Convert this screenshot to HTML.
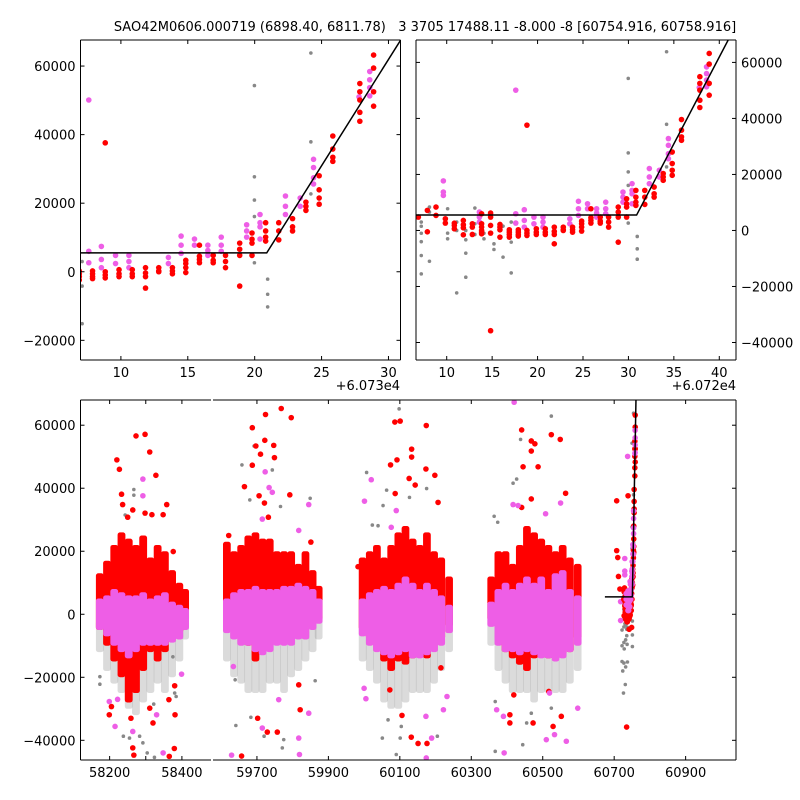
<!DOCTYPE html>
<html><head><meta charset="utf-8"><style>
html,body{margin:0;padding:0;background:#fff;}
svg{display:block;font-family:"DejaVu Sans","Liberation Sans",sans-serif;}
</style></head><body>
<svg id="chart" width="800" height="800" viewBox="0 0 800 800" xmlns="http://www.w3.org/2000/svg">
<rect x="0" y="0" width="800" height="800" fill="#ffffff"/>
<text x="425" y="31" font-size="13" text-anchor="middle" style="white-space:pre" xml:space="preserve">SAO42M0606.000719 (6898.40, 6811.78)   3 3705 17488.11 -8.000 -8 [60754.916, 60758.916]</text>
</svg>
<script>
// ---- zoomed data (last season), times relative to T0 ----
const T0 = 60720;
const topRedNights = [6.88,7.87,8.82,9.85,10.84,11.83,12.82,13.84,14.83,15.86,16.89,17.88,18.83,19.86,20.85,21.84,22.83,23.85,24.85,25.87,26.9,27.82,28.88,29.8,30.82,31.8,32.83,33.83,34.82,35.84,37.86,38.89];
const topRedValues = [[4770],[7160,-480],[8350,5370],[4180,2620],[2600,1800,600],[3580,2030,950,-1550],[2390,1190,-1430],[5970,2390,1190,0,-600,-1190],[6200,4770,1790,-950,-35800],[2150,1190,240,-2390],[240,-600,-1430,-2390],[240,-600,-1430,-2000],[37600,0,-950,-1790],[600,-600,-1430],[600,-600,-1430],[1190,-360,-1430,-4770],[1190,240,0],[1190,240,-600],[3340,2390,1190,-240],[7750,4530,3580,2630],[4770,3340,2630],[4770,2980,1190],[8350,6560,4770,-4180],[11300,9500,8350,4770],[14300,11900,10100,8950],[14300,11900,9300],[15500,13100,11900],[20300,19100,17900],[28000,23900,21500,19700],[39600,35800,33400,32200],[54900,52500,50100,46500,43900],[63200,59400,52500,48300]];
const topPinkNights = [9.63,13.6,17.6,18.54,19.6,20.6,23.55,24.5,25.5,26.5,27.5,29.4,30.4,32.3,33.4,34.4,37.8,38.6];
const topPinkValues = [[17700,13700,12500],[6560,4770,2980],[50100,5970,2630],[7400,3580,1190],[4770,2390],[4770,2980,1190],[4180,2390],[10400,7750,5370],[9540,7750],[7750,6200,4770],[10100,7750,5970],[13700,11900,10100],[16700,14300,13100,9540],[22100,19100,16700],[21500,19100],[32800,30400,27400,25600],[51000],[58400,56000,53700,51300]];
const topGrayNights = [7.2,8.1,10.1,11.1,12.1,13.1,14.1,15.2,16.2,17.1,29.98,30.97,34.2];
const topGrayValues = [[3000,1500,-1000,-4000,-8950,-15500],[8350,6560,-11000],[7750,-950,-2980],[2980,0,-22300],[0,-3340,-8110,-16700],[8000,2390,-1430],[-1000,-3000],[-4770,-6800],[1550,-9540],[2980,-4180,-15150],[54300,27700,20900,16100,2630],[-2150,-6560,-10260],[63800,37900,22700]];
// broken-power-law fit: break time, base level, slope (per day), start of drawn line in full panel
const fitBreak = [60750.9];
const fitBase = [5500];
const fitSlope = [6200];
const fitStart = [60674];

// ---- full light curve: nightly-binned envelopes ----
const binT = [58172,58192,58212,58232,58252,58272,58292,58312,58332,58352,58372,58392,58408,
  59615,59635,59655,59675,59695,59715,59735,59755,59775,59795,59815,59835,59855,59872,
  59995,60015,60035,60055,60075,60095,60115,60135,60155,60175,60195,60215,60237,
  60355,60375,60395,60415,60435,60455,60475,60495,60515,60535,60555,60575,60597];
const redHi = [13000,17000,22000,26000,24000,22000,25000,18000,22000,20000,14000,10000,8000,
  23000,20000,22000,25000,26000,24000,24000,20000,20000,20000,16000,20000,14000,9000,
  18000,20000,22000,18000,22000,26000,28000,24000,22000,26000,20000,18000,12000,
  12000,20000,20000,16000,22000,28000,26000,24000,22000,20000,22000,18000,16000];
const redLo = [-5000,-10000,-15000,-20000,-28000,-25000,-18000,-12000,-15000,-12000,-8000,-6000,-2000,
  -2000,-5000,-8000,-10000,-15000,-12000,-10000,-8000,-8000,-8000,-6000,-5000,-3000,-2000,
  -5000,-8000,-10000,-15000,-18000,-15000,-16000,-14000,-12000,-14000,-10000,-8000,-4000,
  -2000,-8000,-12000,-14000,-16000,-18000,-14000,-12000,-14000,-12000,-13000,-12000,-8000];
const pinkHi = [5000,6000,8000,7000,6000,6000,7000,5000,6000,7000,4000,3000,2000,
  5000,7000,8000,8000,9000,8000,8000,8000,9000,9000,10000,9000,8000,5000,
  5000,7000,8000,9000,8000,10000,12000,10000,8000,10000,8000,6000,3000,
  4000,8000,10000,8000,10000,12000,10000,12000,8000,13000,14000,8000,6000];
const pinkLo = [-5000,-7000,-10000,-12000,-14000,-12000,-10000,-10000,-10000,-10000,-9000,-8000,-5000,
  -6000,-8000,-10000,-10000,-12000,-13000,-12000,-10000,-10000,-10000,-8000,-8000,-5000,-3000,
  -7000,-10000,-12000,-13000,-14000,-13000,-12000,-14000,-14000,-13000,-12000,-10000,-6000,
  -4000,-10000,-12000,-12000,-13000,-12000,-13000,-14000,-14000,-15000,-14000,-12000,-10000];
const grayLo = [-12000,-18000,-22000,-25000,-30000,-32000,-28000,-25000,-22000,-25000,-20000,-15000,-8000,
  -15000,-20000,-22000,-25000,-25000,-25000,-22000,-22000,-25000,-20000,-18000,-15000,-12000,-8000,
  -15000,-18000,-22000,-28000,-30000,-30000,-28000,-25000,-25000,-25000,-22000,-18000,-12000,
  -10000,-18000,-22000,-25000,-25000,-25000,-28000,-25000,-25000,-25000,-25000,-22000,-18000];
// individual outliers in full light curve
const outRedT = [58220,58227,58233,58236,58250,58264,58273,58298,58311,58328,58298,58317,58348,58358,58376,58199,58205,58259,58264,58267,58311,58320,58365,58379,58381,58380,58364,
  59687,59697,59724,59768,59796,59722,59747,59710,59749,59687,59665,59706,59721,59792,59732,59621,59615,59702,59729,59757,59657,59821,59851,59817,
  60086,60101,60174,60133,60133,60074,60092,60173,60198,60126,60143,60087,60207,59983,60106,60151,60176,60132,60072,60215,
  60441,60468,60468,60445,60487,60524,60549,60564,60478,60468,60441,60408,60408,60473,60529,60552,60517,60419,
  60707,60707,60710,60712,60716];
const outRedV = [49000,46000,38100,34800,30800,33100,56600,57100,51500,44100,32100,31600,31600,34800,19900,-31900,-29300,-33000,-42400,-44700,-29800,-34500,-45100,-42600,-31900,-22700,-27100,
  59200,53400,63400,65300,62400,55200,53600,50800,49700,47300,40500,37600,35300,37900,30800,25000,14400,-33000,-37400,-37400,-45000,-30300,22900,-22400,
  61000,61300,59900,52400,49900,47400,49000,46100,44100,43100,41000,38300,35500,15100,-32100,-41000,-41000,-39000,-24000,-17000,
  58500,55000,51800,46800,46800,57000,55500,38400,54100,36600,33900,-34500,-31900,-34500,-35600,-32400,-24500,-25600,
  36000,20200,18000,12000,8000];
const outPinkT = [58292,58292,58199,58215,58264,58330,58348,58399,58222,
  59723,59734,59743,59715,59845,59817,59634,59629,59715,59819,59845,59761,59817,
  60020,60001,60090,60076,60000,60005,60173,60189,60222,60232,60174,
  60420,60417,60550,60508,60431,60371,60390,60392,60533,60566,60510,60598,60519,
  60718,60718];
const outPinkV = [42900,37600,-27700,-35600,-37200,-31900,-44000,-19000,-27000,
  45200,40200,38700,30200,34800,26600,-16600,-44700,-36100,-44500,-31400,-27100,-39300,
  42700,35900,32900,27600,-23500,-26800,-32400,-39300,-30300,-26100,-45600,
  67300,34800,35300,31900,34500,-30300,-32400,-44000,-38200,-40300,-39800,-29800,-25000,
  4000,-2000];
const outGrayT = [58267,58267,58243,58238,58255,58283,58292,58304,58324,58384,58173,58173,58322,58375,58380,
  59658,59680,59692,59743,59766,59849,59639,59641,59683,59771,59720,59863,59775,
  60098,60007,60063,60053,60023,60039,60127,60175,60051,60101,60205,60067,60104,60090,
  60524,60438,60417,60427,60364,60374,60367,60367,60444,60468,60524,60455,
  60722,60722,60722,60724,60726];
const outGrayV = [39600,37800,31500,-38700,-39300,-38700,-40800,-44000,-45400,-26100,-22200,-19800,-28500,-13500,-25000,
  47400,36300,53400,45800,34200,36800,-20800,-35300,-32700,-42400,-38700,-21100,-39800,
  65200,45000,39400,34500,28300,28100,37100,39900,-39300,-39300,-38700,-33500,-35600,-44500,
  62900,55500,41600,42900,31100,29200,-27700,-43500,-41400,-31400,-29800,-34500,
  -5000,-10000,-15000,-18000,-25000];

const SVGNS = "http://www.w3.org/2000/svg";
const svg = document.getElementById('chart');
function mk(tag, attrs, parent){ const e=document.createElementNS(SVGNS,tag); for(const k in attrs) e.setAttribute(k,attrs[k]); (parent||svg).appendChild(e); return e; }

const AX = {
  tl:{px0:80.5,px1:400.5,py0:40,py1:360,xmin:60736.98,xmax:60760.9,ymin:-25740,ymax:67600},
  tr:{px0:416,px1:736,py0:40,py1:360,xmin:60726.62,xmax:60761.84,ymin:-46250,ymax:68000},
  bl:{px0:80.5,px1:211,py0:400,py1:760,xmin:58119.4,xmax:58480.5,ymin:-46250,ymax:68000},
  br:{px0:213,px1:736,py0:400,py1:760,xmin:59577,xmax:61041,ymin:-46250,ymax:68000}
};
function sx(a,v){ return a.px0+(v-a.xmin)/(a.xmax-a.xmin)*(a.px1-a.px0); }
function sy(a,v){ return a.py1-(v-a.ymin)/(a.ymax-a.ymin)*(a.py1-a.py0); }

const defs = mk('defs',{});
function axesGroup(key,name){
  const a=AX[key];
  const cp=mk('clipPath',{id:'clip-'+key},defs);
  mk('rect',{x:a.px0,y:a.py0,width:a.px1-a.px0,height:a.py1-a.py0},cp);
  const g=mk('g',{'clip-path':'url(#clip-'+key+')'});
  
  
  return g;
}
function dot(g,a,t,v,r,color,name){
  const c=mk('circle',{cx:sx(a,t).toFixed(2),cy:sy(a,v).toFixed(2),r:r,fill:color},g);
  
  
}
const RED='#ff0000', PINK='#ee5ee6', GRAY='#888888';
const RR=2.8, RP=2.8, RG=1.8;

function drawTop(key,name){
  const a=AX[key]; const g=axesGroup(key,name);
  topGrayNights.forEach((t,i)=>topGrayValues[i].forEach(v=>dot(g,a,T0+t,v,RG,GRAY,'gray-point')));
  topPinkNights.forEach((t,i)=>topPinkValues[i].forEach(v=>dot(g,a,T0+t,v,RP,PINK,'pink-point')));
  topRedNights.forEach((t,i)=>topRedValues[i].forEach(v=>dot(g,a,T0+t,v,RR,RED,'red-point')));
  const x0=a.xmin, x2=a.xmax+5;
  const yend=fitBase[0]+fitSlope[0]*(x2-fitBreak[0]);
  const pl=mk('polyline',{points:`${sx(a,x0)},${sy(a,fitBase[0])} ${sx(a,fitBreak[0])},${sy(a,fitBase[0])} ${sx(a,x2)},${sy(a,yend)}`,fill:'none',stroke:'#000','stroke-width':1.5},g);
  
  
}
function drawBottom(key,name){
  const a=AX[key]; const g=axesGroup(key,name);
  const hw=10;
  function band(t,lo,hi,color,nm,op){
    const x1=sx(a,t-hw), x2=sx(a,t+hw);
    const r=mk('rect',{x:x1.toFixed(2),y:sy(a,hi).toFixed(2),width:(x2-x1+0.6).toFixed(2),height:Math.max(0,sy(a,lo)-sy(a,hi)).toFixed(2),rx:2.5,fill:color,'fill-opacity':op},g);
    
    
  }
  binT.forEach((t,i)=>band(t,grayLo[i],pinkLo[i]+3000,GRAY,'gray-band',0.3));
  outGrayT.forEach((t,i)=>dot(g,a,t,outGrayV[i],RG,GRAY,'gray-outlier'));
  binT.forEach((t,i)=>band(t,redLo[i],redHi[i],RED,'red-band',1));
  outRedT.forEach((t,i)=>dot(g,a,t,outRedV[i],RR,RED,'red-outlier'));
  binT.forEach((t,i)=>band(t,pinkLo[i],pinkHi[i],PINK,'pink-band',1));
  outPinkT.forEach((t,i)=>dot(g,a,t,outPinkV[i],RP,PINK,'pink-outlier'));
  topGrayNights.forEach((t,i)=>topGrayValues[i].forEach(v=>dot(g,a,T0+t,v,RG,GRAY,'gray-point')));
  topRedNights.forEach((t,i)=>topRedValues[i].forEach(v=>dot(g,a,T0+t,v,RR,RED,'red-point')));
  topPinkNights.forEach((t,i)=>topPinkValues[i].forEach(v=>dot(g,a,T0+t,v,RP,PINK,'pink-point')));
  const x2=fitBreak[0]+20, yend=fitBase[0]+fitSlope[0]*(x2-fitBreak[0]);
  const pl=mk('polyline',{points:`${sx(a,fitStart[0])},${sy(a,fitBase[0])} ${sx(a,fitBreak[0])},${sy(a,fitBase[0])} ${sx(a,x2)},${sy(a,yend)}`,fill:'none',stroke:'#000','stroke-width':1.5},g);
  
  
}
drawTop('tl','zoom-plot-left');
drawTop('tr','zoom-plot-right');
drawBottom('bl','full-plot-left');
drawBottom('br','full-plot-right');

function line(x1,y1,x2,y2,name){ const l=mk('line',{x1,y1,x2,y2,stroke:'#000','stroke-width':1});   }
function txt(x,y,s,anchor,name){ const t=mk('text',{x,y,'font-size':13,'text-anchor':anchor}); t.textContent=s;   }
function fmtY(v){ return v<0 ? '\u2212'+Math.abs(v) : String(v); }

const tlXTicks=[10,15,20,25,30], trXTicks=[10,15,20,25,30,35,40];
const tlYTicks=[-20000,0,20000,40000,60000], fullYTicks=[-40000,-20000,0,20000,40000,60000];
const blXTicks=[58200,58300,58400], blXLabels=[58200,58400];
const brXTicks=[59700,59900,60100,60300,60500,60700,60900];

function frame(a,sides,name){
  if(sides.includes('t')) line(a.px0,a.py0,a.px1,a.py0,name+'-top-spine');
  if(sides.includes('b')) line(a.px0,a.py1,a.px1,a.py1,name+'-bottom-spine');
  if(sides.includes('l')) line(a.px0,a.py0,a.px0,a.py1,name+'-left-spine');
  if(sides.includes('r')) line(a.px1,a.py0,a.px1,a.py1,name+'-right-spine');
}
function xticks(a,ticks,off,labels,name){
  ticks.forEach(t=>{ const x=sx(a,off+t); line(x,a.py1,x,a.py1-4,name+'-x-tick'); line(x,a.py0,x,a.py0+4,name+'-x-tick-top'); });
  labels.forEach(t=>{ txt(sx(a,off+t),a.py1+17,String(t),'middle',name+'-x-tick-label'); });
}
function yticks(a,ticks,sides,labelSide,name){
  ticks.forEach(v=>{ const y=sy(a,v);
    if(sides.includes('l')) line(a.px0,y,a.px0+4,y,name+'-y-tick');
    if(sides.includes('r')) line(a.px1,y,a.px1-4,y,name+'-y-tick-right');
    if(labelSide==='l') txt(a.px0-5,y+5,fmtY(v),'end',name+'-y-tick-label');
    if(labelSide==='r') txt(a.px1+5,y+5,fmtY(v),'start',name+'-y-tick-label');
  });
}
frame(AX.tl,'tblr','zoom-left'); xticks(AX.tl,tlXTicks,60730,tlXTicks,'zoom-left'); yticks(AX.tl,tlYTicks,'lr','l','zoom-left');
txt(400,390,'+6.073e4','end','zoom-left-x-offset');
frame(AX.tr,'tblr','zoom-right'); xticks(AX.tr,trXTicks,60720,trXTicks,'zoom-right'); yticks(AX.tr,fullYTicks,'lr','r','zoom-right');
txt(736,390,'+6.072e4','end','zoom-right-x-offset');
frame(AX.bl,'tbl','full-left'); xticks(AX.bl,blXTicks,0,blXLabels,'full-left'); yticks(AX.bl,fullYTicks,'l','l','full-left');
frame(AX.br,'tbr','full-right'); xticks(AX.br,brXTicks,0,brXTicks,'full-right'); yticks(AX.br,fullYTicks,'r','','full-right');
</script>
</body></html>
